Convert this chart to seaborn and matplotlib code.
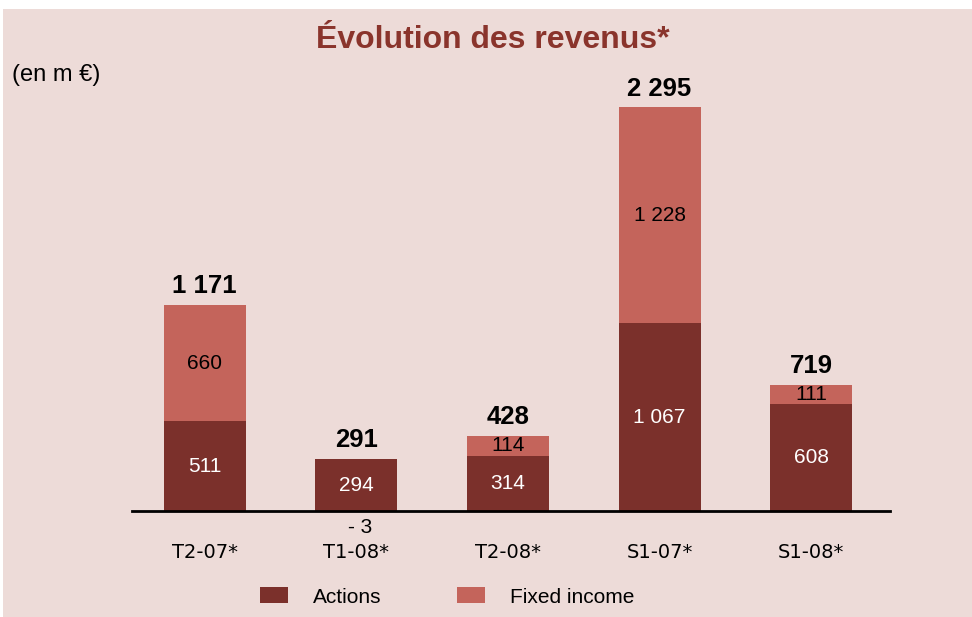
"""Évolution des revenus — stacked bars (Actions / Fixed income)."""

import matplotlib
matplotlib.use("Agg")
import matplotlib.pyplot as plt
import pandas as pd
import seaborn as sns
from matplotlib.patches import Patch, Rectangle

# ── Data ─────────────────────────────────────────────────────────────

periods = ["T2-07*", "T1-08*", "T2-08*", "S1-07*", "S1-08*"]
actions = [511, 294, 314, 1067, 608]
fixed_income = [660, -3, 114, 1228, 111]
totals = [1171, 291, 428, 2295, 719]

DARK = "#7B302B"
LIGHT = "#C4645B"
BG = "#EDDBD8"
TITLE_C = "#8A342C"


def fmt(v: int) -> str:
    s = f"{abs(v):,}".replace(",", " ")
    return f"- {s}" if v < 0 else s


df = pd.DataFrame({
    "period": periods,
    "actions": actions,
    "fixed": fixed_income,
    "total": totals,
})
df["stack_top"] = df["actions"] + df["fixed"].clip(lower=0)

sns.set_theme(style="white")
plt.rcParams["font.family"] = ["Liberation Sans", "DejaVu Sans"]

fig = plt.figure(figsize=(9.72, 6.17), dpi=100, facecolor="white")
fig.patches.append(Rectangle((3 / 972, 0), 1, 608 / 617, transform=fig.transFigure,
                             facecolor=BG, edgecolor="none", zorder=-10))
ax = fig.add_axes([132 / 972, 106 / 617, 758 / 972, 422 / 617])
ax.set_facecolor("none")

sns.barplot(data=df, x="period", y="stack_top", color=LIGHT, width=0.54,
            saturation=1, linewidth=0, edgecolor="none", ax=ax)
sns.barplot(data=df, x="period", y="actions", color=DARK, width=0.54,
            saturation=1, linewidth=0, edgecolor="none", ax=ax)

ax.set_xlim(-0.48, 4.52)
ax.set_ylim(0, 2400)

# segment labels
for i, row in df.iterrows():
    ax.text(i, row["actions"] / 2, fmt(row["actions"]), ha="center", va="center",
            color="white", fontsize=15)
    if row["fixed"] > 0:
        ax.text(i, row["actions"] + row["fixed"] / 2, fmt(row["fixed"]),
                ha="center", va="center", color="black", fontsize=15)
    else:
        ax.annotate(fmt(row["fixed"]), (i, 0), xytext=(3, -12),
                    textcoords="offset points", ha="center", va="center",
                    color="black", fontsize=15)
    ax.annotate(fmt(row["total"]), (i, max(row["stack_top"], row["actions"])),
                xytext=(0, 5), textcoords="offset points", ha="center",
                va="bottom", fontsize=18.5, fontweight="bold", color="black")

sns.despine(ax=ax, left=True)
ax.spines["bottom"].set_color("black")
ax.spines["bottom"].set_linewidth(2)
ax.set_yticks([])
ax.set_xlabel("")
ax.set_ylabel("")
ax.tick_params(axis="x", length=0, pad=23, labelsize=14, labelcolor="black")
for lbl in ax.get_xticklabels():
    lbl.set_family("DejaVu Sans")

fig.text(493 / 972, 1 - 40 / 617, "Évolution des revenus*", ha="center",
         va="center", fontsize=23, fontweight="bold", color=TITLE_C)
fig.text(12 / 972, 1 - 75 / 617, "(en m €)", ha="left", va="center",
         fontsize=17, color="black")

handles = [Patch(facecolor=DARK, edgecolor="none", label="Actions"),
           Patch(facecolor=LIGHT, edgecolor="none", label="Fixed income")]
fig.legend(handles=handles, loc="center", bbox_to_anchor=(447 / 972, 1 - 597 / 617),
           ncol=2, frameon=False, fontsize=15, handlelength=1.35, handleheight=0.8,
           columnspacing=3.6, handletextpad=1.2, labelcolor="black")

fig.savefig("out.png", dpi=100, facecolor=fig.get_facecolor())
